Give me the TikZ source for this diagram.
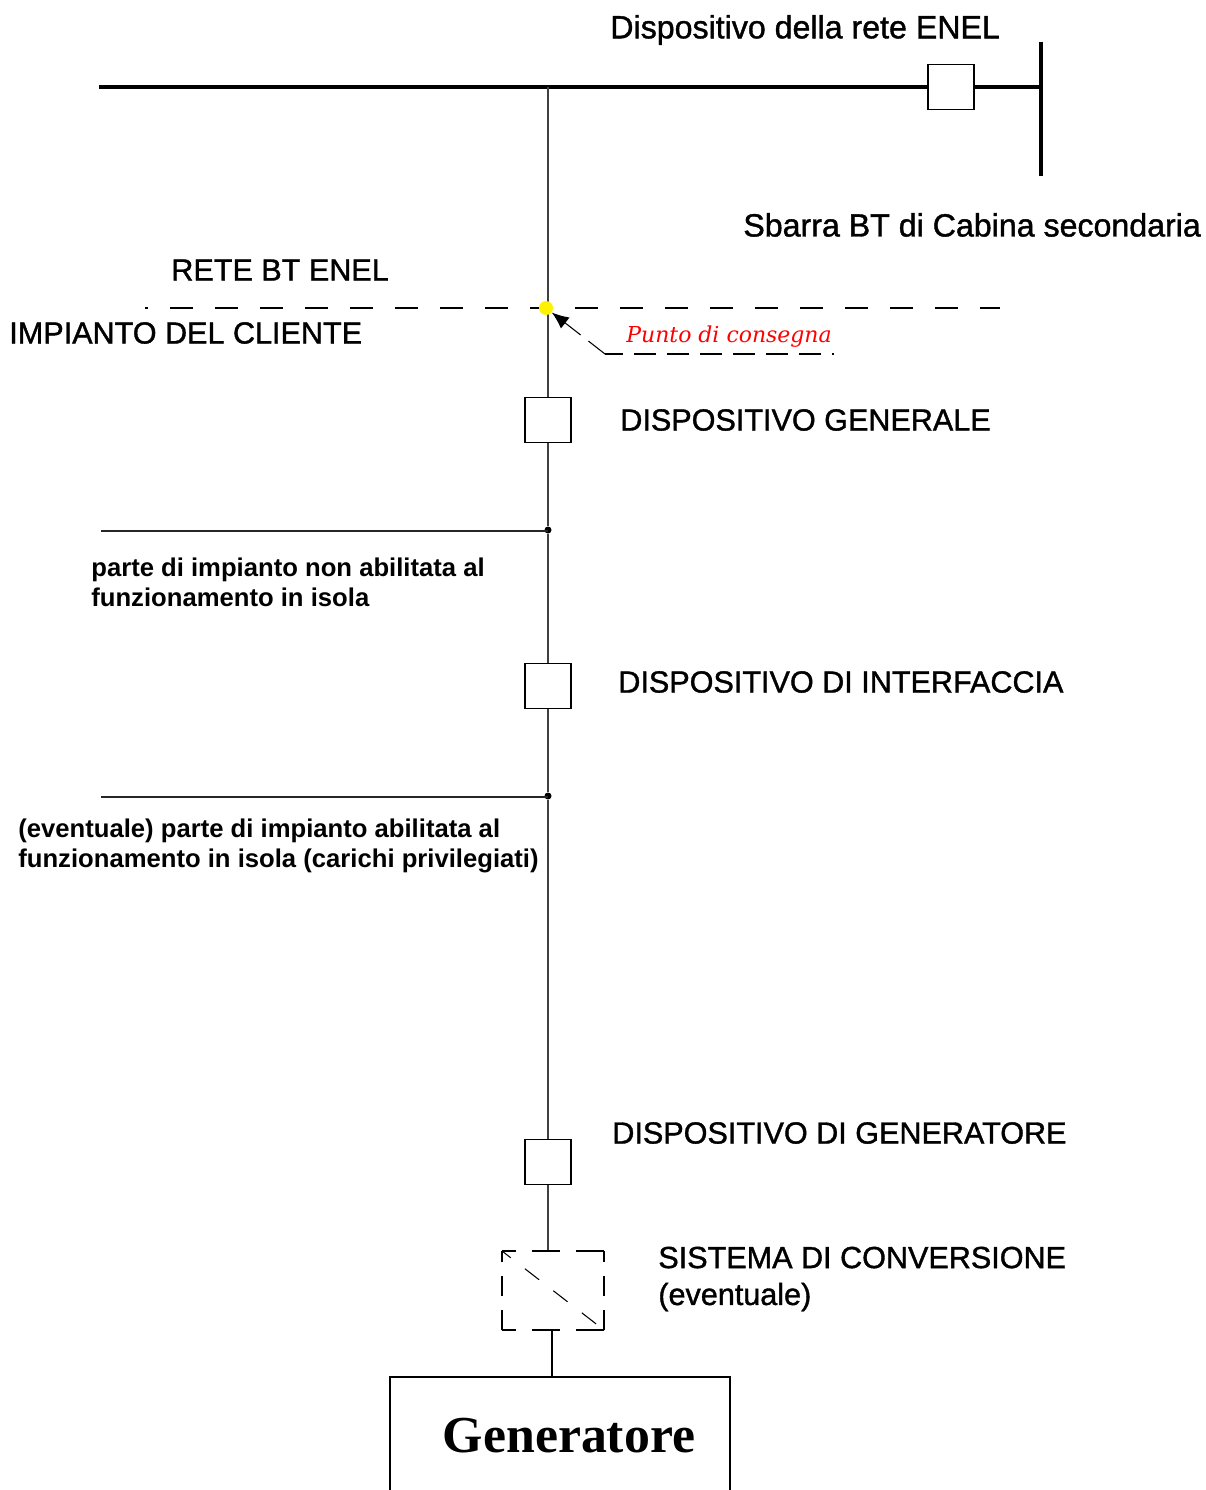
\documentclass[tikz,border=0pt]{standalone}
\usepackage{xcolor}
\usepackage{tikz}
\usepackage{fontspec}
\usetikzlibrary{arrows.meta}
\setmainfont{Liberation Sans}
\newfontfamily\genfont{Liberation Serif}
\newfontfamily\puntofont{DejaVu Serif}
\newfontfamily\grandefont{Liberation Sans}[FakeBold=1.2]
\tikzset{
	disp/.style={draw, rectangle, thick, minimum width=0.92cm, minimum height=0.89cm, inner sep=0pt},
	grande/.style={inner sep=0pt, font=\grandefont\fontsize{17.4pt}{21pt}\selectfont, text=black, anchor=west, align=left},
	minuscolo/.style={grande, font=\grandefont\fontsize{18.3pt}{21pt}\selectfont},
	piccolo/.style={inner sep=0pt, font=\fontsize{14.6pt}{17pt}\selectfont\bfseries, text=black, anchor=west, align=left},
	giunto/.style={circle, fill=black, inner sep=0pt, minimum size=0.14cm},
	punto/.style={circle, fill=yellow, inner sep=0pt, minimum size=0.28cm},
	conv/.style={semithick},
	barra/.style={line width=2.2pt}
}
\begin{document}
\begin{tikzpicture}[x=0.02cm, y=-0.02cm]
		\useasboundingbox (0,0) rectangle (1205,1490);
		\draw
		coordinate (busa) at (99,87)
		coordinate (busb) at (548,87)
		coordinate (sba) at (1041,42)
		coordinate (sbb) at (1041,176)
		coordinate (sbm) at (1041,87)
		coordinate (lima) at (145,308)
		coordinate (limb) at (1000,308)
		coordinate (cona) at (834,354)
		coordinate (conb) at (605,354)
		coordinate (cara) at (101,531)
		coordinate (carb) at (101,797)
		coordinate (carc) at (548,531)
		coordinate (card) at (548,797)
		coordinate (cva) at (548,1251)
		coordinate (cvb) at (552,1330)
		coordinate (gen) at (552,1377)
		coordinate (gna) at (390,1490)
		coordinate (gnb) at (390,1377)
		coordinate (gnc) at (730,1377)
		coordinate (gnd) at (730,1490)
		coordinate (cxa) at (502,1251)
		coordinate (cxb) at (604,1251)
		coordinate (cxc) at (604,1330)
		coordinate (cxd) at (502,1330)
		node[disp] at (951,87) (dre) {}
		node[disp] at (548,420) (dge) {}
		node[disp] at (548,686) (din) {}
		node[disp] at (548,1162) (dgn) {}
		node[giunto] at (548,530) (gia) {}
		node[giunto] at (548,796) (gib) {}
		node[minuscolo] at (610,30) (tre) {Dispositivo della rete ENEL}
		node[minuscolo] at (743,225) (tsb) {Sbarra BT di Cabina secondaria}
		node[grande] at (171,270) (tbt) {RETE BT ENEL}
		node[grande] at (9,333) (tcl) {IMPIANTO DEL CLIENTE}
		node[grande] at (620,420) (tge) {DISPOSITIVO GENERALE}
		node[grande] at (618,682) (tin) {DISPOSITIVO DI INTERFACCIA}
		node[grande] at (612,1133) (tgn) {DISPOSITIVO DI GENERATORE}
		node[grande] at (658,1279) (tcv) {SISTEMA DI CONVERSIONE\\(eventuale)}
		node[piccolo] at (91,582) (tno) {parte di impianto non abilitata al\\funzionamento in isola}
		node[piccolo] at (18,846) (tev) {(eventuale) parte di impianto abilitata al\\funzionamento in isola (carichi privilegiati)}
		node[inner sep=0pt, anchor=west, text=red, font=\puntofont\itshape\fontsize{12.5pt}{15pt}\selectfont] at (626,337) (tpu) {Punto di consegna}
		node[inner sep=0pt, font=\genfont\bfseries\fontsize{29.5pt}{34pt}\selectfont] at (569,1436) (tgr) {Generatore};
		\draw[barra] (busa) -- (busb);
		\draw[barra] (busb) -- (dre);
		\draw[barra] (dre) -- (sbm);
		\draw[line width=1.8pt] (sba) -- (sbb);
		\draw[dash pattern=on 0.46cm off 0.44cm, dash phase=0.4cm, semithick] (lima) -- (limb);
		\draw[thick, black!75] (busb) -- (dge);
		\draw[thick, black!75] (dge) -- (gia);
		\draw[thick, black!75] (gia) -- (din);
		\draw[thick, black!75] (din) -- (gib);
		\draw[thick, black!75] (gib) -- (dgn);
		\draw[thick, black!75] (dgn) -- (cva);
		\draw[thick, black!85] (cara) -- (carc);
		\draw[thick, black!85] (carb) -- (card);
		\draw[thick] (cvb) -- (gen);
		\draw[thick] (gna) -- (gnb) -- (gnc) -- (gnd);
		\draw[conv, dash pattern=on 0.56cm off 0.32cm, dash phase=0.28cm] (cxa) -- (cxb);
		\draw[conv, dash pattern=on 0.56cm off 0.32cm, dash phase=0.28cm] (cxd) -- (cxc);
		\draw[conv, dash pattern=on 0.4cm off 0.28cm, dash phase=0.18cm] (cxa) -- (cxd);
		\draw[conv, dash pattern=on 0.4cm off 0.28cm, dash phase=0.18cm] (cxb) -- (cxc);
		\draw[conv, dash pattern=on 0.36cm off 0.36cm, dash phase=0.14cm] (cxa) -- (cxc);
		\draw[conv, dash pattern=on 0.44cm off 0.22cm, dash phase=0.08cm] (conb) -- (cona);
		\node[punto] at (546,308) (pun) {};
		\draw[semithick, dash pattern=on 0.42cm off 0.2cm, -{Latex[length=0.34cm,width=0.28cm]}] (conb) -- (pun);
\end{tikzpicture}
\end{document}
